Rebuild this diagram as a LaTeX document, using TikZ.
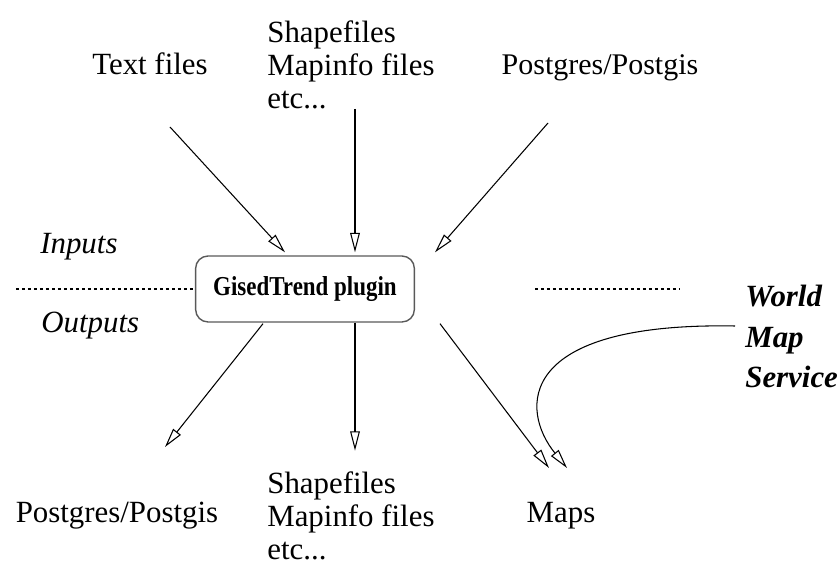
\documentclass[tikz,border=0pt]{standalone}
\usepackage{fontspec}
\setmainfont{Liberation Serif}
\usepackage{tikz}
\usetikzlibrary{arrows.meta, calc}
\tikzstyle{arrow} = [line width=0.6pt, -{Triangle[open, length=11pt, width=5.5pt]}]
\tikzstyle{txt} = [inner sep=0pt, font=\fontsize{17.5}{18.7}\selectfont]
\tikzstyle{plugin} = [draw=black!65, line width=0.8pt, rounded corners=7pt, minimum width=124pt, minimum height=37.4pt, font=\fontsize{15.5}{18}\selectfont\bfseries]
\tikzstyle{divider} = [line width=0.6pt, dash pattern=on 1.7pt off 1.7pt]

\begin{document}
\begin{tikzpicture}[x=0.567pt, y=-0.567pt]
\useasboundingbox (0,0) rectangle (839,564);
\node[plugin] (plugin) at (305,289) {\scalebox{0.84}[1]{GisedTrend plugin}};
% inputs
\node[txt, anchor=base] (txtin) at (150,75) {Text files};
\node[txt, anchor=north west, align=left] (shpin) at (267,20) {Shapefiles\\Mapinfo files\\etc...};
\node[txt, anchor=base, font=\fontsize{17}{18.7}\selectfont] (pgin) at (600,75) {Postgres/Postgis};
% outputs
\node[txt, anchor=base] (pgout) at (117,523) {Postgres/Postgis};
\node[txt, anchor=north west, align=left] (shpout) at (267,471) {Shapefiles\\Mapinfo files\\etc...};
\node[txt, anchor=base] (maps) at (561,523) {Maps};
\node[txt, anchor=base west] (inputs) at (40,254) {\itshape Inputs};
\node[txt, anchor=base west] (outputs) at (41,333) {\itshape Outputs};
\node[txt, anchor=north west, align=left, font=\fontsize{17.5}{23}\selectfont\bfseries\itshape] (wms) at (745,285) {World\\Map\\Service};

\coordinate (dl) at (16,289);
\coordinate (dr1) at (535,289);
\coordinate (dr2) at (680,289);
\draw[divider] (dl) -- (plugin.west);
\draw[divider] (dr1) -- (dr2);

\draw[arrow] ([shift={(20,52)}]txtin.base) -- ([shift={(-20,-3)}]plugin.north);
\draw[arrow] ([xshift=50*0.567pt]plugin.north |- shpin.south) -- ([shift={(50,-3)}]plugin.north);
\draw[arrow] ([shift={(-52,48)}]pgin.base) -- ([shift={(130,-3)}]plugin.north);
\draw[arrow] ([shift={(-42,1)}]plugin.south) -- ([shift={(48,-76)}]pgout.base);
\draw[arrow] ([shift={(50,0)}]plugin.south) -- ([shift={(50,128)}]plugin.south);
\draw[arrow] ([shift={(135,1)}]plugin.south) -- ([shift={(-12,-55)}]maps.base);
\draw[arrow] ([shift={(-10,41)}]wms.north west) .. controls (515,322) and (520,410) .. ([shift={(6,-55)}]maps.base);
\end{tikzpicture}
\end{document}
